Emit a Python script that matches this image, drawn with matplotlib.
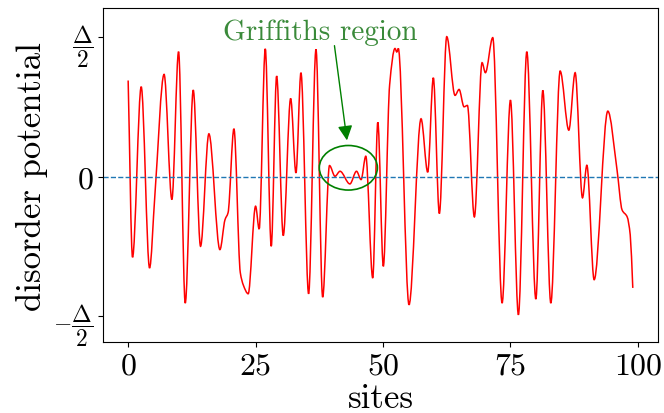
import numpy as np
import matplotlib
matplotlib.use('Agg')
import matplotlib.pyplot as plt
from matplotlib.path import Path
from matplotlib.patches import PathPatch, Ellipse

plt.rcParams['font.family'] = 'serif'
plt.rcParams['font.serif'] = ['cmr10']
plt.rcParams['mathtext.fontset'] = 'cm'
plt.rcParams['axes.formatter.use_mathtext'] = True

# curve knots (site, potential in units of Delta/2)
sites = [0.0, 0.86, 2.56, 4.2, 5.25, 7.05, 8.58, 9.89, 11.2, 12.77, 14.2, 15.84,
         18.0, 19.0, 19.6, 20.75, 22.0, 22.6, 23.55, 25.0, 25.7, 26.9, 28.07,
         29.13, 30.43, 31.88, 32.92, 33.9, 35.4, 36.85, 38.16, 39.5, 40.58,
         41.56, 43.5, 44.8, 45.7, 46.62, 47.98, 48.98, 50.06, 51.3, 52.35,
         52.7, 53.0, 55.1, 57.46, 58.77, 59.87, 61.05, 62.5, 64.13, 64.92,
         65.9, 66.55, 67.92, 69.43, 70.08, 71.53, 73.36, 75.0, 76.56, 78.21,
         79.98, 81.35, 82.92, 84.75, 86.45, 87.69, 89.13, 89.99, 91.42, 94.1,
         95.9, 96.9, 97.9, 98.5, 99.0]
potential = [0.69, -0.58, 0.645, -0.657, -0.13, 0.734, -0.165, 0.897, -0.909,
             0.621, -0.501, 0.307, -0.525, -0.31, -0.26, 0.343, -0.69, -0.78,
             -0.842, -0.213, -0.377, 0.918, -0.501, 0.722, -0.424, 0.561, 0.026,
             0.746, -0.842, 0.914, -0.866, 0.079, 0.002, 0.038, -0.053, 0.038,
             -0.022, 0.146, -0.729, 0.39, -0.645, 0.66, 0.92, 0.895, 0.92,
             -0.921, 0.415, 0.031, 0.71, -0.266, 1.005, 0.583, 0.626, 0.501,
             0.511, -0.29, 0.818, 0.746, 0.998, -0.909, 0.549, -0.993, 0.897,
             -0.88, 0.619, -0.909, 0.758, 0.333, 0.746, -0.153, 0.081, -0.741,
             0.47, 0.05, -0.24, -0.29, -0.42, -0.80]

yticks = [1, 0, -1]
yticklabels = [r'$\dfrac{\Delta}{2}$', r'$0$', r'$-\dfrac{\Delta}{2}$']
xticks = [0, 25, 50, 75, 100]


def smooth_path(x, y):
    # monotone (pchip-like) tangents, drawn as cubic bezier segments
    x = np.asarray(x, float)
    y = np.asarray(y, float)
    h = np.diff(x)
    d = np.diff(y) / h
    m = np.zeros_like(y)
    for k in range(1, len(x) - 1):
        if d[k-1] * d[k] > 0:
            w1 = 2*h[k] + h[k-1]
            w2 = h[k] + 2*h[k-1]
            m[k] = (w1 + w2) / (w1/d[k-1] + w2/d[k])
    m[0] = d[0]
    m[-1] = d[-1]
    verts = [(x[0], y[0])]
    codes = [Path.MOVETO]
    for k in range(len(x) - 1):
        verts += [(x[k] + h[k]/3, y[k] + m[k]*h[k]/3),
                  (x[k+1] - h[k]/3, y[k+1] - m[k+1]*h[k]/3),
                  (x[k+1], y[k+1])]
        codes += [Path.CURVE4]*3
    return Path(verts, codes)


fig, ax = plt.subplots(figsize=(6.64, 4.14), dpi=100)
fig.subplots_adjust(left=0.155, right=0.991, top=0.978, bottom=0.171)

ax.axhline(0, color='C0', ls='--', lw=1)
ax.add_patch(PathPatch(smooth_path(sites, potential), facecolor='none',
                       edgecolor='red', lw=1.1))

ax.add_patch(Ellipse((43.2, 0.063), 11.4, 0.32, fill=False,
                     edgecolor='green', lw=1.2))
ax.annotate('', xy=(43.0, 0.24), xytext=(40.4, 0.96),
            arrowprops=dict(arrowstyle='-|>', color='green', lw=1,
                            mutation_scale=22))
ax.text(37.6, 0.986, 'Griffiths region', color='#3a8a3a', fontsize=21,
        ha='center', va='baseline')

ax.set_xlim(-4.95, 103.95)
ax.set_ylim(-1.19, 1.21)
ax.set_xticks(xticks)
ax.set_yticks(yticks)
ax.set_yticklabels(yticklabels)
ax.tick_params(labelsize=23)
for lab in ax.get_yticklabels():
    if 'Delta' in lab.get_text():
        lab.set_fontsize(17)
ax.set_xlabel('sites', fontsize=25, labelpad=2)
ax.set_ylabel('disorder potential', fontsize=25, labelpad=4)

fig.savefig('out.png', dpi=100)
